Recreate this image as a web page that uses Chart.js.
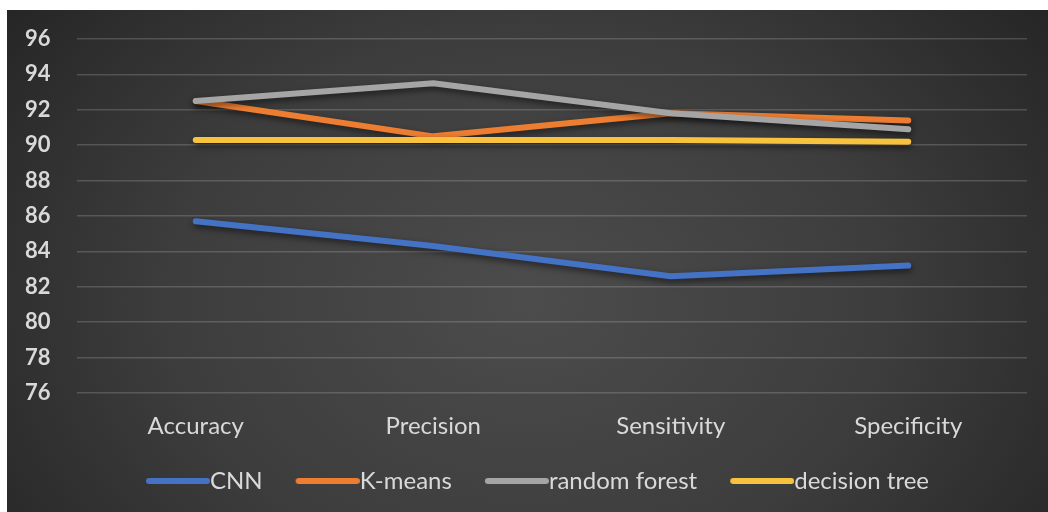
<!DOCTYPE html>
<html>
<head>
<meta charset="utf-8">
<script src="https://cdn.jsdelivr.net/npm/chart.js@4.4.1/dist/chart.umd.min.js"></script>
<style>
  html, body { margin: 0; padding: 0; background: #ffffff; }
  #wrap { position: absolute; left: 7px; top: 10px; width: 1041px; height: 502px; }
</style>
</head>
<body>
<div id="wrap"><canvas id="chart"></canvas></div>
<script>
// Evaluation metrics per model
const categories = ['Accuracy', 'Precision', 'Sensitivity', 'Specificity'];
const seriesNames = ['CNN', 'K-means', 'random forest', 'decision tree'];
const cnnValues = [85.7, 84.3, 82.6, 83.2];
const kmeansValues = [92.5, 90.5, 91.8, 91.4];
const randomForestValues = [92.5, 93.5, 91.8, 90.9];
const decisionTreeValues = [90.3, 90.3, 90.3, 90.2];
const yTicks = [76, 78, 80, 82, 84, 86, 88, 90, 92, 94, 96];

const seriesValues = [cnnValues, kmeansValues, randomForestValues, decisionTreeValues];
const seriesColors = ['#4472C4', '#ED7D31', '#A5A5A5', '#F7C23E'];

const FONT = 'Lato, "Open Sans", "DejaVu Sans", sans-serif';
const LEGEND_FONT_SIZE = 24;
const LEGEND_BOX = 75;
const SWATCH_LEN = 64;

// Legend swatch: a short rounded stroke ending right where the label text starts
function makeSwatch(color) {
  const c = document.createElement('canvas');
  c.width = LEGEND_BOX + LEGEND_FONT_SIZE;
  c.height = 8;
  const g = c.getContext('2d');
  g.strokeStyle = color;
  g.lineWidth = 6;
  g.lineCap = 'round';
  g.beginPath();
  g.moveTo(c.width - SWATCH_LEN + 3, 4);
  g.lineTo(c.width - 3, 4);
  g.stroke();
  return c;
}
const swatches = seriesColors.map(makeSwatch);

// Dark radial backdrop
const backdrop = {
  id: 'backdrop',
  beforeDraw(chart) {
    const { ctx, width, height } = chart;
    ctx.save();
    const cx = width * 0.5, cy = height * 0.58;
    ctx.translate(cx, cy);
    ctx.scale(1, 0.75);
    const grad = ctx.createRadialGradient(0, 0, 0, 0, 0, width * 0.62);
    grad.addColorStop(0, '#4c4c4c');
    grad.addColorStop(0.55, '#3d3d3d');
    grad.addColorStop(1, '#262626');
    ctx.fillStyle = grad;
    ctx.fillRect(-cx - 5, -cy / 0.75 - 5, width + 10, height / 0.75 + 10);
    ctx.restore();
  }
};

// Soft drop shadow under the lines
const lineShadow = {
  id: 'lineShadow',
  beforeDatasetsDraw(chart) {
    const ctx = chart.ctx;
    ctx.save();
    ctx.shadowColor = 'rgba(0,0,0,0.55)';
    ctx.shadowBlur = 6;
    ctx.shadowOffsetX = 1;
    ctx.shadowOffsetY = 3;
  },
  afterDatasetsDraw(chart) {
    chart.ctx.restore();
  }
};

const datasets = seriesNames.map((name, i) => ({
  label: name,
  data: seriesValues[i],
  borderColor: seriesColors[i],
  backgroundColor: seriesColors[i],
  borderWidth: 6,
  borderCapStyle: 'round',
  borderJoinStyle: 'round',
  pointRadius: 0,
  pointHoverRadius: 0,
  tension: 0,
  fill: false,
  order: seriesNames.length - i
}));

new Chart(document.getElementById('chart'), {
  type: 'line',
  data: { labels: categories, datasets },
  options: {
    responsive: true,
    maintainAspectRatio: false,
    animation: false,
    layout: { padding: { top: 29, right: 21, bottom: 9, left: 18 } },
    scales: {
      x: {
        offset: true,
        grid: { display: false, drawTicks: false },
        border: { display: false },
        ticks: {
          color: '#d9d9d9',
          font: { family: FONT, size: 24 },
          padding: 19,
          maxRotation: 0
        },
        afterFit(scale) { scale.height = 66; }
      },
      y: {
        min: yTicks[0],
        max: yTicks[yTicks.length - 1],
        afterBuildTicks(scale) { scale.ticks = yTicks.map(v => ({ value: v })); },
        grid: { color: 'rgba(255,255,255,0.17)', lineWidth: 1.5, drawTicks: false },
        border: { display: false },
        ticks: {
          color: '#d9d9d9',
          font: { family: FONT, size: 22, weight: 'bold' },
          padding: 0,
          crossAlign: 'far'
        },
        afterFit(scale) { scale.width = 52; }
      }
    },
    plugins: {
      legend: {
        position: 'bottom',
        labels: {
          usePointStyle: true,
          pointStyleWidth: LEGEND_BOX,
          boxHeight: 6,
          padding: 10,
          color: '#d9d9d9',
          font: { family: FONT, size: LEGEND_FONT_SIZE },
          sort: (a, b) => a.datasetIndex - b.datasetIndex,
          generateLabels(chart) {
            const items = Chart.defaults.plugins.legend.labels.generateLabels(chart);
            items.forEach(it => { it.pointStyle = swatches[it.datasetIndex]; });
            return items;
          }
        }
      },
      tooltip: { enabled: false }
    }
  },
  plugins: [backdrop, lineShadow]
});
</script>
</body>
</html>
